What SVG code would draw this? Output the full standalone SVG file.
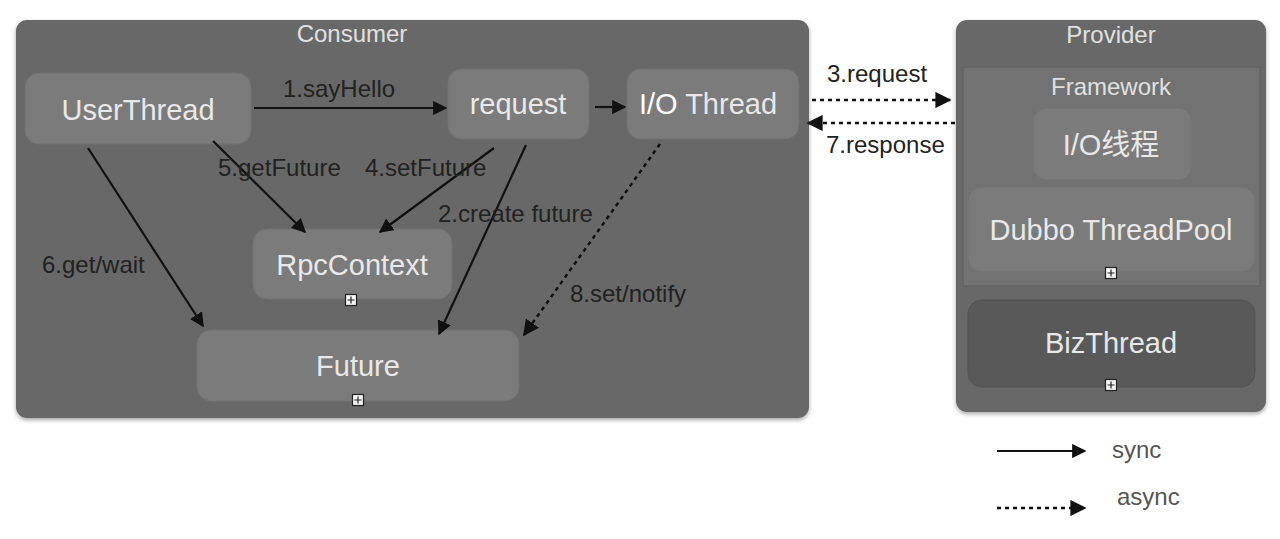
<svg xmlns="http://www.w3.org/2000/svg" width="1280" height="539" viewBox="0 0 1280 539">
<defs>
<style>
.cont{fill:#686868;}
.node{fill:#7b7b7b;stroke:#727272;stroke-width:1;}
.biz{fill:#595959;stroke:#535353;stroke-width:1;}
.fw{fill:#727272;stroke:#5e5e5e;stroke-width:1;}
.nt{font-family:"Liberation Sans",Arial,sans-serif;font-size:29px;fill:#e8e8e8;text-anchor:middle;}
.ct{font-family:"Liberation Sans",Arial,sans-serif;font-size:24px;fill:#e0e0e0;text-anchor:middle;}
.lb{font-family:"Liberation Sans",Arial,sans-serif;font-size:24px;fill:#222;}
.lg{font-family:"Liberation Sans",Arial,sans-serif;font-size:24px;fill:#555;}
.sync{stroke:#111;stroke-width:2.2;fill:none;marker-end:url(#ah);}
.async{stroke:#111;stroke-width:2.5;fill:none;stroke-dasharray:4 4;marker-end:url(#ah);}
.ic{fill:#f4f4f4;stroke:#222;stroke-width:1.2;}
.icp{stroke:#222;stroke-width:1.2;}
</style>
<marker id="ah" viewBox="0 0 10 10" refX="9" refY="5" markerWidth="6.5" markerHeight="6.5" markerUnits="strokeWidth" orient="auto">
<path d="M0,0 L10,5 L0,10 Z" fill="#111"/>
</marker>
<filter id="sh" x="-5%" y="-5%" width="110%" height="115%">
<feDropShadow dx="0" dy="2" stdDeviation="2" flood-color="#000" flood-opacity="0.35"/>
</filter>
<g id="icon">
<rect x="-5.5" y="-5.5" width="11" height="11" class="ic"/>
<path d="M-3.5,0 H3.5 M0,-3.5 V3.5" class="icp"/>
</g>
</defs>
<rect width="1280" height="539" fill="#ffffff"/>

<g id="consumer">
<rect x="16" y="20" width="793" height="398" rx="11" class="cont" filter="url(#sh)"/>
<text x="352" y="42" class="ct">Consumer</text>
</g>
<g id="provider">
<rect x="956" y="20" width="310" height="392" rx="11" class="cont" filter="url(#sh)"/>
<text x="1111" y="43" class="ct">Provider</text>
</g>
<g id="framework">
<rect x="963" y="67" width="297" height="219" class="fw"/>
<text x="1111" y="95" class="ct">Framework</text>
</g>

<g id="userthread">
<rect x="25" y="73" width="226" height="71" rx="14" class="node"/>
<text x="138" y="120" class="nt">UserThread</text>
</g>
<g id="request">
<rect x="448" y="69" width="141" height="70" rx="14" class="node"/>
<text x="518" y="114" class="nt">request</text>
</g>
<g id="iothread">
<rect x="627" y="69" width="172" height="70" rx="14" class="node"/>
<text x="708" y="114" class="nt"><tspan fill="#ffffff">I/O</tspan> Thread</text>
</g>
<g id="rpccontext">
<rect x="253" y="229" width="199" height="70" rx="14" class="node"/>
<text x="352" y="275" class="nt">RpcContext</text>
<use href="#icon" x="351" y="300"/>
</g>
<g id="future">
<rect x="197" y="330" width="322" height="71" rx="14" class="node"/>
<text x="358" y="376" class="nt">Future</text>
<use href="#icon" x="358" y="400"/>
</g>
<g id="io-provider">
<rect x="1033" y="108" width="159" height="72" rx="14" class="node"/>
<text x="1111" y="155" font-family="'Liberation Sans','Noto Sans CJK SC',sans-serif" font-size="29" fill="#e8e8e8" text-anchor="middle">I/O线程</text>
</g>
<g id="dubbo-threadpool">
<rect x="968" y="187" width="287" height="85" rx="14" class="node"/>
<text x="1111" y="240" class="nt">Dubbo ThreadPool</text>
<use href="#icon" x="1111" y="273"/>
</g>
<g id="bizthread">
<rect x="968" y="300" width="287" height="87" rx="14" class="biz"/>
<text x="1111" y="353" class="nt">BizThread</text>
<use href="#icon" x="1111" y="385"/>
</g>

<g id="connectors">
<line x1="254" y1="108" x2="446" y2="108" class="sync"/>
<line x1="595" y1="107" x2="625" y2="107" class="sync"/>
<line x1="812" y1="100" x2="950" y2="100" class="async"/>
<line x1="955" y1="123" x2="808" y2="123" class="async"/>
<line x1="213" y1="141" x2="305" y2="232" class="sync"/>
<line x1="494" y1="148" x2="380" y2="232" class="sync"/>
<line x1="526" y1="145" x2="439" y2="334" class="sync"/>
<line x1="660" y1="144" x2="524" y2="335" class="async"/>
<line x1="88" y1="148" x2="203" y2="326" class="sync"/>
<line x1="997" y1="451" x2="1085" y2="451" class="sync"/>
<line x1="997" y1="508" x2="1085" y2="508" class="async"/>
</g>

<g id="labels">
<text x="283" y="97" class="lb">1.sayHello</text>
<text x="827" y="82" class="lb">3.request</text>
<text x="826" y="153" class="lb">7.response</text>
<text x="218" y="176" class="lb">5.getFuture</text>
<text x="365" y="176" class="lb">4.setFuture</text>
<text x="438" y="222" class="lb">2.create future</text>
<text x="570" y="302" class="lb">8.set/notify</text>
<text x="42" y="273" class="lb">6.get/wait</text>
<text x="1112" y="458" class="lg">sync</text>
<text x="1117" y="505" class="lg">async</text>
</g>
</svg>
